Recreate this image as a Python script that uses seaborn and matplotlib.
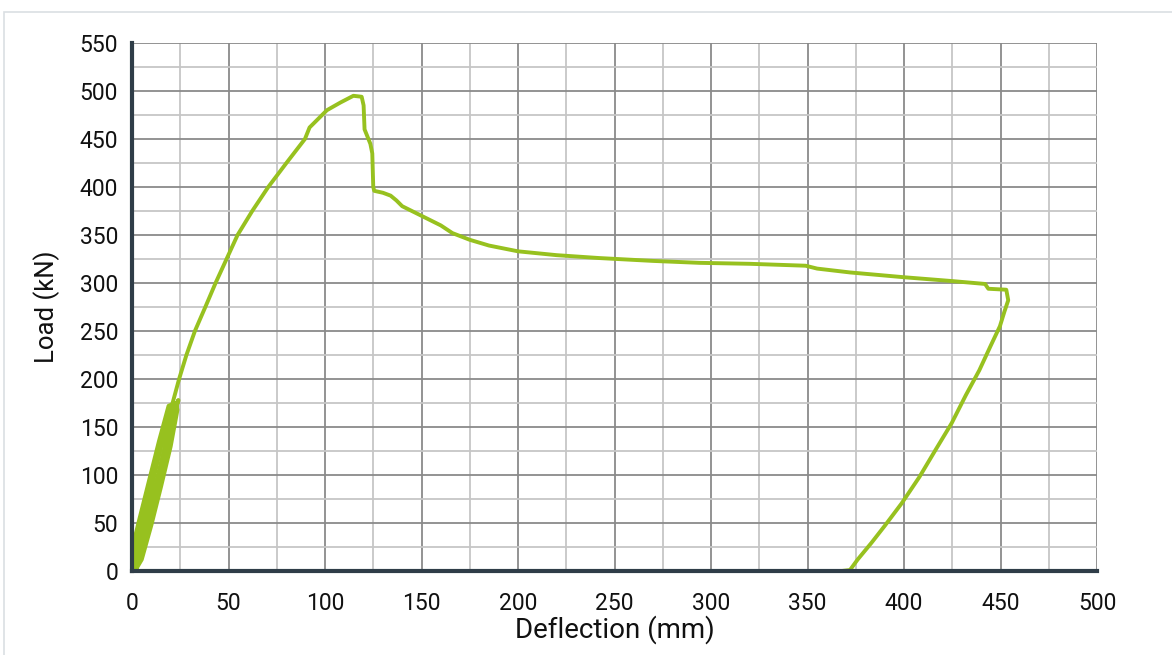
import matplotlib
matplotlib.use("Agg")
import matplotlib.pyplot as plt
import seaborn as sns
import pandas as pd
from matplotlib.ticker import MultipleLocator
from matplotlib.patches import Rectangle

# Initial load/unload cycles (deflection mm, load kN)
cycle_defl = [0, 0, 4, 9, 14, 19, 22.5, 23.5, 20, 15, 10, 5, 1.5, 0,
              0.5, 5, 10, 15, 20, 23, 21, 16, 11, 6, 2, 0.5,
              1, 6, 11, 16, 21, 24, 22, 17, 12, 7, 3, 1]
cycle_load = [0, 22, 55, 95, 135, 172, 175, 168, 130, 88, 48, 12, 0, 0,
              10, 48, 90, 130, 168, 172, 150, 110, 70, 30, 2, 0,
              0, 35, 78, 120, 160, 178, 165, 125, 85, 45, 10, 0]

# Main envelope curve
main_defl = [0, 5, 10, 15, 20.5, 24.4, 28.2, 32.6, 38.0, 43.3, 49.0, 54.7, 62.3, 70.6,
             80, 89.6,
             92, 96, 101, 108, 114.7, 119, 120, 120.5, 123.5, 124.5, 125, 125.5,
             130, 134, 137, 140, 146, 152, 160, 166, 175, 185, 200, 220, 242,
             270, 294, 320, 349, 355, 372, 400, 425, 442, 443.7, 453, 454, 452,
             449.7, 445, 439, 432, 424.7, 416, 408, 398.8, 390, 383, 376, 372, 367.7]
main_load = [0, 40, 85, 130, 171, 200, 225, 250, 275, 300, 325, 350, 375, 400,
             425, 450,
             462, 470, 480, 488, 495, 494, 485, 460, 445, 435, 400, 396,
             394, 391, 386, 380, 374, 368, 360, 352, 345, 339, 333, 329, 326,
             323, 321, 320, 318, 315, 311, 306, 302, 299, 294, 293, 282, 270,
             255, 235, 209, 183, 154, 125, 98, 70.5, 47, 29, 12, 1, 0]

green = "#97C11F"
dark = "#2F3D48"

sns.set_theme(style="white")
plt.rcParams['font.family'] = ['Roboto', 'DejaVu Sans']

fig = plt.figure(figsize=(11.72, 6.55), dpi=100)
fig.patches.append(Rectangle((4/1172, -0.01), 1.0, 1 - 12/655 + 0.01,
                             transform=fig.transFigure, fill=False,
                             edgecolor="#DADFE3", linewidth=1.2, zorder=0))
ax = fig.add_axes([132/1172, 1 - 571/655, (1097 - 132)/1172, (571 - 43)/655])

df_c = pd.DataFrame({"d": cycle_defl, "l": cycle_load})
df_m = pd.DataFrame({"d": main_defl, "l": main_load})
sns.lineplot(data=df_c, x="d", y="l", sort=False, estimator=None, ax=ax,
             color=green, linewidth=3.0, zorder=5)
sns.lineplot(data=df_m, x="d", y="l", sort=False, estimator=None, ax=ax,
             color=green, linewidth=2.8, zorder=5)

ax.set_xlim(0, 500)
ax.set_ylim(0, 550)
ax.xaxis.set_major_locator(MultipleLocator(50))
ax.yaxis.set_major_locator(MultipleLocator(50))
ax.xaxis.set_minor_locator(MultipleLocator(25))
ax.yaxis.set_minor_locator(MultipleLocator(25))
ax.grid(which="major", color="#8A8A8A", linewidth=1.3, zorder=1)
ax.grid(which="minor", color="#C6C6C6", linewidth=1.3, zorder=1)
ax.set_axisbelow(True)

for s in ["top", "right"]:
    ax.spines[s].set_visible(False)
for s in ["left", "bottom"]:
    ax.spines[s].set_color(dark)
    ax.spines[s].set_linewidth(3)
    ax.spines[s].set_zorder(6)

ax.tick_params(which="major", direction="out", length=6, width=3, color=dark,
               labelsize=16.5, labelcolor="#111111")
ax.tick_params(which="minor", length=0)
ax.tick_params(axis="x", pad=9)
ax.tick_params(axis="y", pad=4)

ax.set_xlabel("Deflection (mm)", fontsize=20, color="#111111", labelpad=0)
ax.set_ylabel("Load (kN)", fontsize=18.5, color="#111111", labelpad=14)

fig.savefig("out.png", dpi=100)
